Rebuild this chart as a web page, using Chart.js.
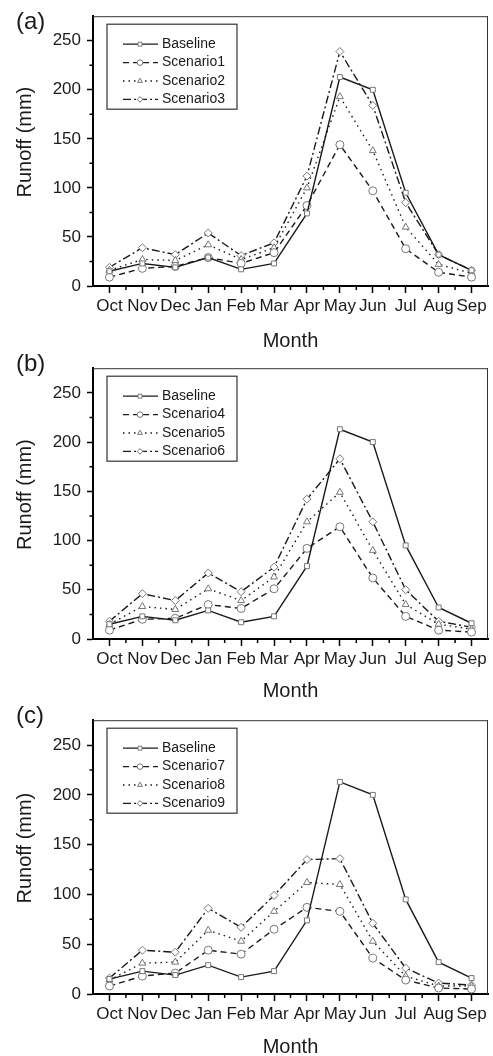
<!DOCTYPE html>
<html>
<head>
<meta charset="utf-8">
<script src="https://cdn.jsdelivr.net/npm/chart.js@4/dist/chart.umd.min.js"></script>
<style>
  body { margin: 0; background: #fff; }
  .panel { position: absolute; left: 0; width: 493px; height: 352px; }
</style>
</head>
<body>
<div class="panel" style="top:0"><canvas id="chartA" width="493" height="352"></canvas></div>
<div class="panel" style="top:352px"><canvas id="chartB" width="493" height="352"></canvas></div>
<div class="panel" style="top:704px"><canvas id="chartC" width="493" height="352"></canvas></div>
<script>
const months = ['Oct', 'Nov', 'Dec', 'Jan', 'Feb', 'Mar', 'Apr', 'May', 'Jun', 'Jul', 'Aug', 'Sep'];
const yTicks = [0, 50, 100, 150, 200, 250];
const yMinorTicks = [25, 75, 125, 175, 225];

const baseline = [15, 23, 19, 29, 17, 23, 74, 213, 200, 95, 32, 16];

// panel (a)
const scenario1 = [9, 18, 20, 29, 23, 34, 82, 144, 97, 38, 14, 9];
const scenario2 = [16, 27, 26, 42, 27, 39, 100, 193, 138, 60, 22, 13];
const scenario3 = [19, 39, 32, 54, 31, 44, 112, 239, 184, 85, 32, 16];

// panel (b)
const scenario4 = [9, 20, 21, 35, 31, 51, 92, 114, 62, 23, 9, 7];
const scenario5 = [15, 33, 30, 51, 39, 63, 119, 149, 90, 35, 15, 10];
const scenario6 = [18, 46, 39, 67, 48, 73, 142, 183, 119, 50, 18, 12];

// panel (c)
const scenario7 = [8, 18, 21, 44, 40, 65, 87, 83, 36, 14, 6, 5];
const scenario8 = [14, 31, 32, 64, 53, 83, 112, 110, 53, 18, 8, 8];
const scenario9 = [16, 44, 42, 86, 67, 99, 135, 136, 71, 26, 11, 9];

const FONT = 'Liberation Sans, Arial, sans-serif';
const INK = '#1a1a1a';

const lineStyles = [
  { dash: [], point: 'rect' },
  { dash: [6, 4], point: 'circle' },
  { dash: [1.5, 4], point: 'triangle' },
  { dash: [8, 3, 2, 3], point: 'rectRot' }
];

const makeDataset = (label, data, i) => ({
  label,
  data,
  borderColor: INK,
  borderWidth: 1.4,
  borderDash: lineStyles[i].dash,
  pointStyle: lineStyles[i].point,
  pointRadius: i === 0 ? 3.5 : 4,
  pointBorderColor: '#777',
  pointBackgroundColor: '#fff',
  pointBorderWidth: 1,
  tension: 0,
  fill: false
});

// frame, minor ticks, legend box, y title and panel letter
const decorPlugin = {
  id: 'decor',
  afterDraw(chart, args, opts) {
    const { ctx, chartArea: a, scales: { x, y } } = chart;
    ctx.save();
    ctx.strokeStyle = '#333';
    ctx.lineWidth = 1;
    ctx.beginPath();
    ctx.moveTo(a.left, a.top + 0.5);
    ctx.lineTo(a.right, a.top + 0.5);
    ctx.moveTo(a.right - 0.5, a.top);
    ctx.lineTo(a.right - 0.5, a.bottom);
    ctx.stroke();

    ctx.strokeStyle = '#000';
    ctx.lineWidth = 1.5;
    ctx.beginPath();
    for (let i = 0; i < months.length - 1; i++) {
      const px = x.getPixelForValue(i + 0.5);
      ctx.moveTo(px, a.bottom);
      ctx.lineTo(px, a.bottom + 4);
    }
    yMinorTicks.forEach(v => {
      const py = y.getPixelForValue(v);
      ctx.moveTo(a.left, py);
      ctx.lineTo(a.left - 3.5, py);
    });
    ctx.stroke();

    // legend
    const bx = a.left + 14, by = a.top + 8, bw = 130, bh = 85;
    ctx.fillStyle = '#fff';
    ctx.fillRect(bx, by, bw, bh);
    ctx.strokeStyle = '#333';
    ctx.lineWidth = 1.2;
    ctx.strokeRect(bx, by, bw, bh);
    ctx.font = '14px ' + FONT;
    ctx.textBaseline = 'middle';
    chart.data.datasets.forEach((ds, i) => {
      const ry = by + 20 + i * 18.4;
      ctx.strokeStyle = INK;
      ctx.lineWidth = 1.3;
      ctx.setLineDash(ds.borderDash);
      ctx.beginPath();
      ctx.moveTo(bx + 16, ry);
      ctx.lineTo(bx + 51, ry);
      ctx.stroke();
      ctx.setLineDash([]);
      ctx.strokeStyle = ds.pointBorderColor;
      ctx.fillStyle = ds.pointBackgroundColor;
      ctx.lineWidth = 1;
      Chart.helpers.drawPoint(ctx, { pointStyle: ds.pointStyle, radius: 2.8, borderWidth: 1 }, bx + 33, ry);
      ctx.fillStyle = INK;
      ctx.fillText(ds.label, bx + 55, ry);
    });

    // y axis title, sits a little above the plot's middle
    ctx.save();
    ctx.translate(25, (a.top + a.bottom) / 2 - 9);
    ctx.rotate(-Math.PI / 2);
    ctx.font = '20px ' + FONT;
    ctx.textAlign = 'center';
    ctx.fillText('Runoff (mm)', 0, 0);
    ctx.restore();

    ctx.font = '24px ' + FONT;
    ctx.fillStyle = INK;
    ctx.textAlign = 'left';
    ctx.textBaseline = 'middle';
    ctx.fillText(opts.letter, 16, opts.letterY);
    ctx.restore();
  }
};

const makePanel = (id, letter, series, layout) => {
  const ctx = document.getElementById(id).getContext('2d');
  return new Chart(ctx, {
    type: 'line',
    data: {
      labels: months,
      datasets: series.map((s, i) => makeDataset(s[0], s[1], i))
    },
    options: {
      responsive: false,
      animation: false,
      layout: { padding: { top: layout.top, left: 0, right: 0, bottom: 0 } },
      plugins: {
        legend: { display: false },
        tooltip: { enabled: false },
        decor: { letter, letterY: layout.letterY }
      },
      scales: {
        x: {
          offset: true,
          afterFit: s => { s.height = layout.xHeight; },
          border: { display: true, color: '#000', width: 2 },
          grid: { drawOnChartArea: false, drawTicks: true, tickLength: 7, tickWidth: 1.5, tickColor: '#000', offset: false },
          ticks: { color: INK, font: { family: FONT, size: 17 }, padding: 3, maxRotation: 0, autoSkip: false },
          title: { display: true, text: 'Month', color: INK, font: { family: FONT, size: 20, lineHeight: 0.8 }, padding: { top: 0, bottom: layout.titlePad } }
        },
        y: {
          min: 0,
          max: 275,
          afterFit: s => { s.width = 93; },
          afterBuildTicks: s => { s.ticks = yTicks.map(v => ({ value: v })); },
          border: { display: true, color: '#000', width: 2 },
          grid: { drawOnChartArea: false, drawTicks: true, tickLength: 6, tickWidth: 1.5, tickColor: '#000' },
          ticks: { color: INK, font: { family: FONT, size: 17 }, padding: 6 }
        }
      }
    },
    plugins: [decorPlugin]
  });
};

makePanel('chartA', '(a)', [
  ['Baseline', baseline], ['Scenario1', scenario1], ['Scenario2', scenario2], ['Scenario3', scenario3]
], { top: 6, xHeight: 66, titlePad: 3, letterY: 22 });

makePanel('chartB', '(b)', [
  ['Baseline', baseline], ['Scenario4', scenario4], ['Scenario5', scenario5], ['Scenario6', scenario6]
], { top: 8, xHeight: 65, titlePad: 5, letterY: 12 });

makePanel('chartC', '(c)', [
  ['Baseline', baseline], ['Scenario7', scenario7], ['Scenario8', scenario8], ['Scenario9', scenario9]
], { top: 11, xHeight: 62, titlePad: 1, letterY: 12 });
</script>
</body>
</html>
